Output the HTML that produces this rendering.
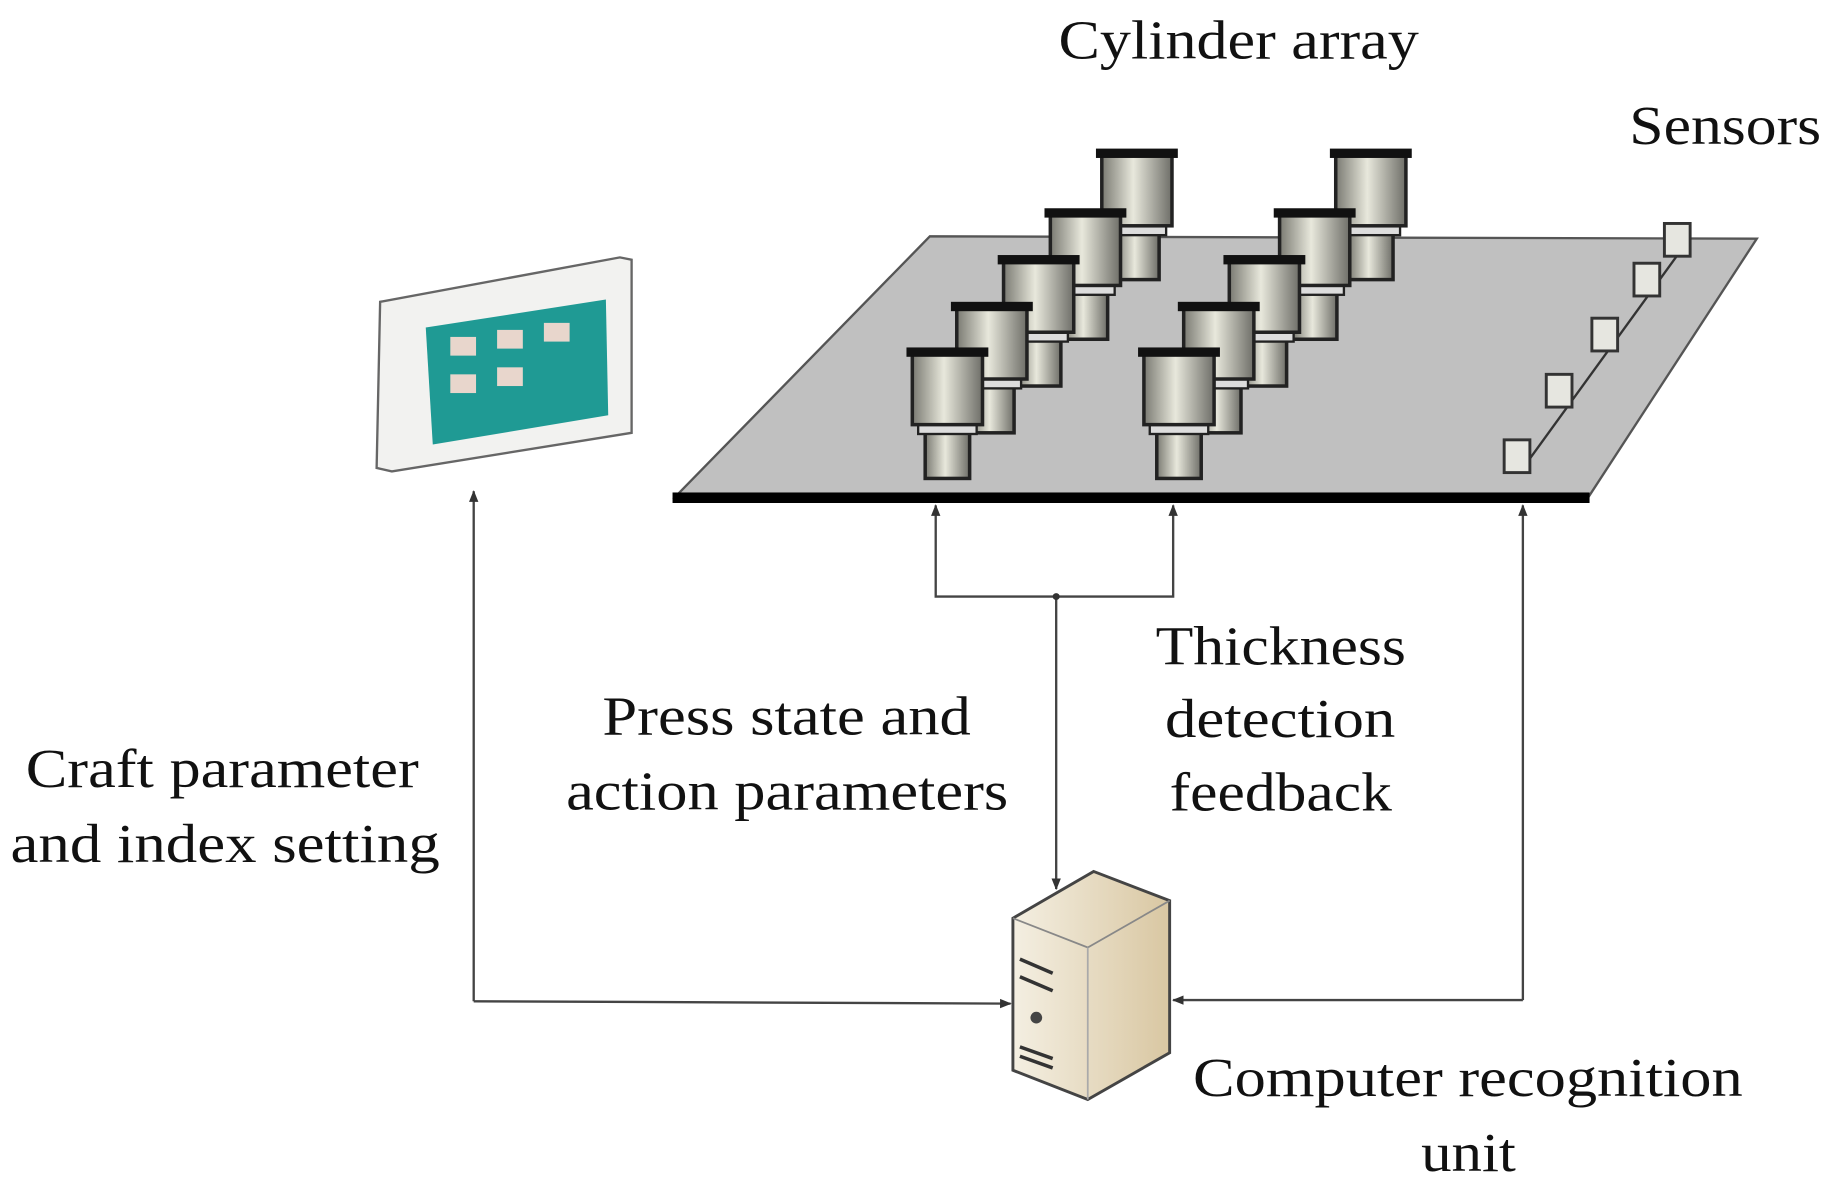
<!DOCTYPE html>
<html><head><style>
html,body{margin:0;padding:0;background:#fff;}
svg{display:block;}
text{font-family:"Liberation Serif",serif;fill:#111;}
</style></head><body>
<svg width="1834" height="1199" viewBox="0 0 1568 1025" xmlns="http://www.w3.org/2000/svg">
<defs>
<linearGradient id="cyl" x1="0" x2="1" y1="0" y2="0">
<stop offset="0" stop-color="#7a7a72"/><stop offset="0.45" stop-color="#e8e8dc"/><stop offset="1" stop-color="#6e6e68"/>
</linearGradient>
<linearGradient id="srv" x1="0" x2="1"><stop offset="0" stop-color="#f4efe2"/><stop offset="1" stop-color="#d9c7a2"/></linearGradient>
<marker id="ar" markerWidth="10" markerHeight="10" refX="9" refY="5" orient="auto" markerUnits="userSpaceOnUse"><path d="M0,1 L10,5 L0,9 z" fill="#333"/></marker>
<g id="c">
<rect x="16" y="72" width="38" height="40" fill="url(#cyl)" stroke="#222" stroke-width="3"/>
<rect x="10" y="64" width="50" height="10" fill="#ddd" stroke="#222" stroke-width="2"/>
<rect x="5" y="6" width="60" height="60" fill="url(#cyl)" stroke="#222" stroke-width="3"/>
<rect x="0" y="0" width="70" height="8" fill="#111"/>
</g>
</defs>
<polygon points="577,425 795,202 1502,204 1358,425" fill="#c0c0c0" stroke="#555" stroke-width="2"/>
<rect x="575" y="421" width="784" height="9" fill="#000"/>
<line x1="1308" y1="392" x2="1440" y2="210" stroke="#333" stroke-width="2"/>
<g fill="#e6e6e0" stroke="#333" stroke-width="2.5">
<rect x="1286" y="376" width="22" height="28"/><rect x="1322" y="320" width="22" height="28"/>
<rect x="1361" y="272" width="22" height="28"/><rect x="1397" y="225" width="22" height="28"/>
<rect x="1423" y="191" width="22" height="28"/>
</g>
<use href="#c" x="1137" y="127"/><use href="#c" x="1089" y="178"/><use href="#c" x="1046" y="218"/><use href="#c" x="1007" y="258"/><use href="#c" x="973" y="297"/>
<use href="#c" x="937" y="127"/><use href="#c" x="893" y="178"/><use href="#c" x="853" y="218"/><use href="#c" x="813" y="258"/><use href="#c" x="775" y="297"/>
<polygon points="325,258 530,220 540,222 540,370 335,403 322,400" fill="#f2f2f0" stroke="#666" stroke-width="2"/>
<polygon points="364,280 518,256 520,355 370,380" fill="#1f9a94"/>
<g fill="#e8d6cc"><rect x="385" y="288" width="22" height="16"/><rect x="425" y="282" width="22" height="16"/><rect x="465" y="276" width="22" height="16"/><rect x="385" y="320" width="22" height="16"/><rect x="425" y="314" width="22" height="16"/></g>
<polygon points="866,785 935,745 1000,770 1000,900 930,940 866,915" fill="url(#srv)" stroke="#444" stroke-width="2.5"/>
<polyline points="866,785 930,810 1000,770" fill="none" stroke="#888" stroke-width="1.5"/>
<line x1="930" y1="810" x2="930" y2="940" stroke="#aaa" stroke-width="1.5"/>
<circle cx="886" cy="870" r="5" fill="#444"/>
<g stroke="#333" stroke-width="3"><line x1="872" y1="820" x2="900" y2="832"/><line x1="872" y1="835" x2="900" y2="847"/><line x1="872" y1="895" x2="900" y2="905"/><line x1="872" y1="903" x2="900" y2="913"/></g>
<g stroke="#444" stroke-width="2" fill="none">
<polyline points="405,856 405,420" marker-end="url(#ar)"/>
<polyline points="405,856 864,858" marker-end="url(#ar)"/>
<polyline points="1302,855 1302,432" marker-end="url(#ar)"/>
<polyline points="1302,855 1003,855" marker-end="url(#ar)"/>
<polyline points="903,510 903,760" marker-end="url(#ar)"/>
<polyline points="903,510 800,510 800,432" marker-end="url(#ar)"/>
<polyline points="903,510 1003,510 1003,432" marker-end="url(#ar)"/>
</g>
<circle cx="903" cy="510" r="3" fill="#333"/>
<g font-size="47" lengthAdjust="spacingAndGlyphs">
<text x="905" y="50" textLength="308" lengthAdjust="spacingAndGlyphs">Cylinder array</text>
<text x="1393" y="123" textLength="164" lengthAdjust="spacingAndGlyphs">Sensors</text>
<text x="988" y="568" textLength="214" lengthAdjust="spacingAndGlyphs">Thickness</text>
<text x="996" y="630" textLength="197" lengthAdjust="spacingAndGlyphs">detection</text>
<text x="1000" y="693" textLength="190" lengthAdjust="spacingAndGlyphs">feedback</text>
<text x="515" y="628" textLength="315" lengthAdjust="spacingAndGlyphs">Press state and</text>
<text x="484" y="692" textLength="378" lengthAdjust="spacingAndGlyphs">action parameters</text>
<text x="22" y="673" textLength="336" lengthAdjust="spacingAndGlyphs">Craft parameter</text>
<text x="9" y="737" textLength="367" lengthAdjust="spacingAndGlyphs">and index setting</text>
<text x="1020" y="937" textLength="470" lengthAdjust="spacingAndGlyphs">Computer recognition</text>
<text x="1215" y="1001" textLength="81" lengthAdjust="spacingAndGlyphs">unit</text>
</g>
</svg>
</body></html>
